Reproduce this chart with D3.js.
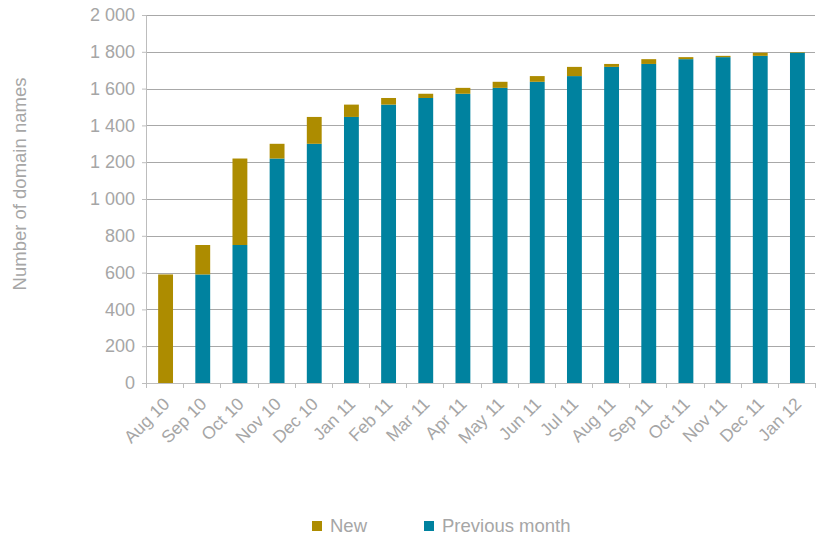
<!DOCTYPE html>
<html lang="en">
<head>
<meta charset="utf-8">
<script src="https://cdn.jsdelivr.net/npm/d3@7"></script>
<style>
  body { margin: 0; background: white; font-family: "Liberation Sans", Arial, sans-serif; }
  .axis text { fill: #a6a6a6; }
  .grid line { stroke: #a8a8a8; }
</style>
</head>
<body>
<svg id="chart" width="817" height="539"></svg>
<script>
// data
var months = ["Aug 10","Sep 10","Oct 10","Nov 10","Dec 10","Jan 11","Feb 11","Mar 11","Apr 11",
              "May 11","Jun 11","Jul 11","Aug 11","Sep 11","Oct 11","Nov 11","Dec 11","Jan 12"]
var previousMonth = [0, 590, 750, 1220, 1300, 1446, 1513, 1549, 1572, 1604, 1637, 1668, 1718, 1734, 1760, 1771, 1778, 1795]
var newNames      = [590, 160, 470, 80, 146, 67, 36, 23, 32, 33, 31, 50, 16, 26, 11, 7, 17, 3]
var yTicks = [0, 200, 400, 600, 800, 1000, 1200, 1400, 1600, 1800, 2000]

var colors = {"New": "#ad8c00", "Previous month": "#00829f"}

var margin = {top: 15, right: 2, bottom: 156, left: 146}
var width = 817 - margin.left - margin.right
var height = 539 - margin.top - margin.bottom

var rows = months.map(function(m, i){
  return {month: m, prev: previousMonth[i], added: newNames[i]}
})

var x = d3.scaleBand().domain(months).range([0, width]).paddingInner(0.6).paddingOuter(0.3)
var y = d3.scaleLinear().domain([0, 2000]).range([height, 0])

var svg = d3.select("#chart").append("g")
  .attr("transform", "translate(" + margin.left + "," + margin.top + ")")

// gridlines
svg.append("g").attr("class", "grid")
  .selectAll("line").data(yTicks.slice(1)).enter().append("line")
  .attr("x1", 0).attr("x2", width)
  .attr("y1", function(d){ return Math.round(y(d)) + 0.5 })
  .attr("y2", function(d){ return Math.round(y(d)) + 0.5 })

// stacked bars
var stack = d3.stack().keys(["prev", "added"])(rows)
var keyName = {prev: "Previous month", added: "New"}

svg.selectAll(".layer").data(stack).enter().append("g")
  .attr("class", "layer")
  .attr("fill", function(d){ return colors[keyName[d.key]] })
  .selectAll("rect").data(function(d){ return d }).enter().append("rect")
    .attr("x", function(d){ return x(d.data.month) + 1 })
    .attr("width", x.bandwidth())
    .attr("y", function(d){ return y(d[1]) })
    .attr("height", function(d){ return y(d[0]) - y(d[1]) })

// y axis
var yAxis = d3.axisLeft(y).tickValues(yTicks).tickSize(4).tickPadding(7)
  .tickFormat(function(d){ return d3.format(",")(d).replace(",", " ") })
var ya = svg.append("g").attr("class", "axis").call(yAxis)
ya.selectAll("text").attr("font-size", 18).attr("font-family", "Liberation Sans, Arial, sans-serif")
ya.selectAll("line, path").attr("stroke", "#bdbdbd")

// x axis (ticks between categories)
var xa = svg.append("g").attr("class", "axis")
  .attr("transform", "translate(0," + height + ")")
xa.append("line").attr("x1", 0).attr("x2", width).attr("y1", 0.5).attr("y2", 0.5).attr("stroke", "#bdbdbd")
var step = x.step()
xa.selectAll(".tick").data(d3.range(months.length + 1)).enter().append("line")
  .attr("class", "tick")
  .attr("x1", function(i){ return Math.round(i * step) + 0.5 })
  .attr("x2", function(i){ return Math.round(i * step) + 0.5 })
  .attr("y1", 0).attr("y2", 5).attr("stroke", "#bdbdbd")
xa.selectAll(".lab").data(months).enter().append("text")
  .attr("class", "lab")
  .attr("transform", function(d){
    return "translate(" + (x(d) + x.bandwidth() / 2 + 6) + ",22) rotate(-45)"
  })
  .attr("text-anchor", "end")
  .attr("font-size", 17.5)
  .text(function(d){ return d })

// y axis title
svg.append("text")
  .attr("transform", "translate(" + (-120) + "," + (height / 2 - 15) + ") rotate(-90)")
  .attr("text-anchor", "middle")
  .attr("font-size", 18.5)
  .attr("fill", "#a6a6a6")
  .text("Number of domain names")

// legend
var legendItems = [{name: "New", x: 312}, {name: "Previous month", x: 424}]
var legend = d3.select("#chart").selectAll(".legend").data(legendItems).enter().append("g")
  .attr("class", "legend")
  .attr("transform", function(d){ return "translate(" + d.x + ",521)" })
legend.append("rect").attr("width", 10).attr("height", 10)
  .attr("fill", function(d){ return colors[d.name] })
legend.append("text").attr("x", 18).attr("y", 10.5).attr("font-size", 18.5)
  .attr("fill", "#a6a6a6").text(function(d){ return d.name })
</script>
</body>
</html>
